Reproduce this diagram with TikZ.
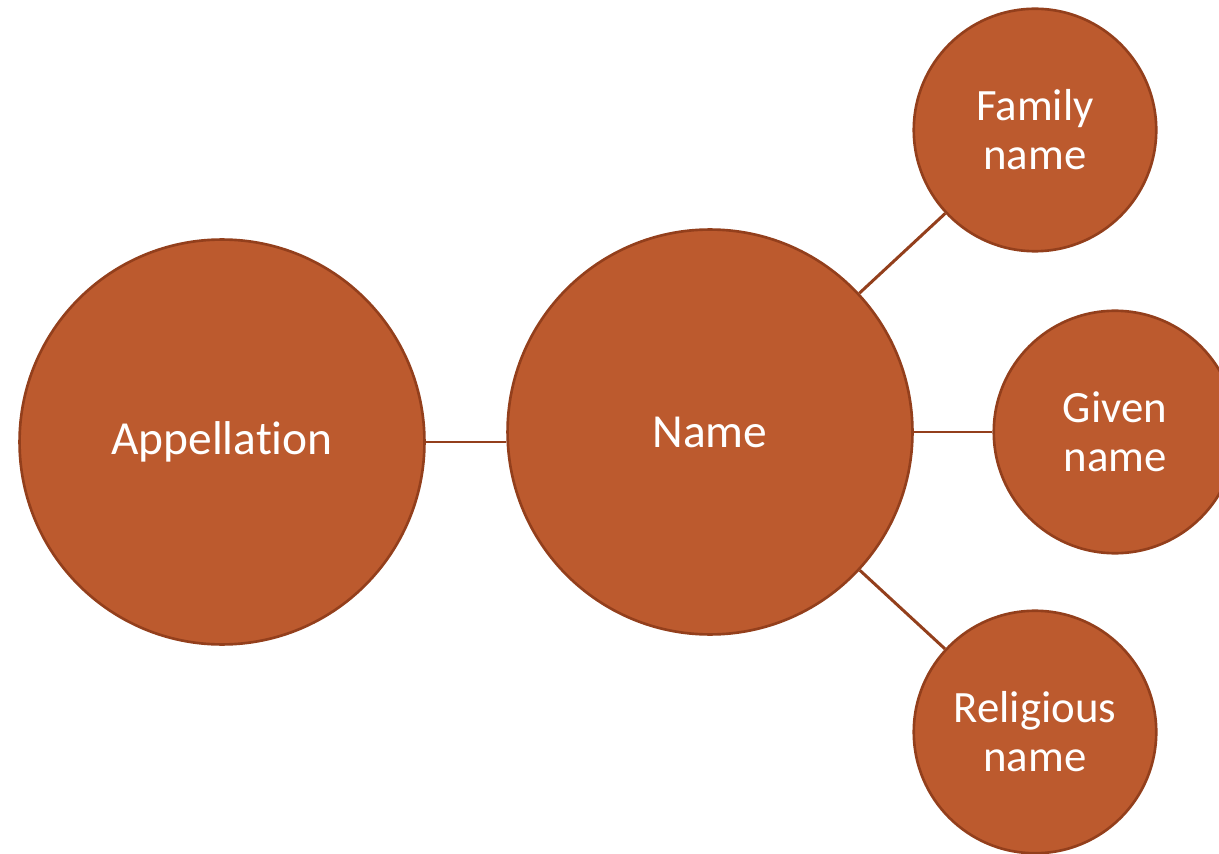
\documentclass[tikz,border=0pt]{standalone}
\usepackage{fontspec}
\setmainfont{Carlito}[Ligatures=CommonOff]
\usepackage{tikz}
\usepackage{xcolor}
\definecolor{Brique}{HTML}{BC5A2E}
\definecolor{BriqueFonce}{HTML}{933F1C}
\tikzset{
GrandRond/.style={
 circle,
 fill=Brique,
 draw=BriqueFonce,
 line width=1.5pt,
 minimum size=8.1cm,
 inner sep=0pt,
 text=white,
 font=\fontsize{27}{32}\selectfont
 },
PetitRond/.style={
 circle,
 fill=Brique,
 draw=BriqueFonce,
 line width=1.5pt,
 minimum size=4.85cm,
 inner sep=0pt,
 align=center,
 text=white,
 font=\fontsize{25.5}{27.8}\selectfont
 },
Lien/.style={
 draw=BriqueFonce,
 line width=1.7pt
 }
}

\begin{document}
\begin{tikzpicture}[x=0.02cm,y=-0.02cm]
\useasboundingbox (0,0) rectangle (1219,854);
\node[GrandRond] (appel) at (222,442) {Appellation};
\node[GrandRond] (nom) at (710,432) {Name};
\node[PetitRond] (famille) at (1035,130) {Family\\name};
\node[PetitRond] (donne) at (1115,432) {Given\\name};
\node[PetitRond] (religion) at (1035,732) {Religious\\name};
\draw[Lien] (appel.east) -- (appel.east -| nom.west);
\draw[Lien] (nom) -- (famille);
\draw[Lien] (nom) -- (donne);
\draw[Lien] (nom) -- (religion);
\end{tikzpicture}
\end{document}
